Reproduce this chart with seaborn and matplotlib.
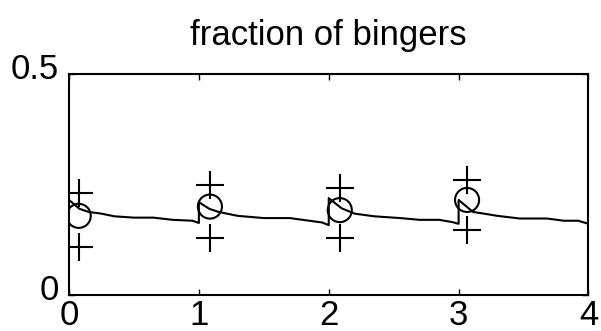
import matplotlib
matplotlib.use("Agg")
import matplotlib.pyplot as plt
import matplotlib.transforms as mtransforms
import seaborn as sns
import pandas as pd

sns.set_theme(style="white")
plt.rcParams["font.family"] = ["Liberation Sans", "DejaVu Sans"]

# Simulated fraction of bingers over time (jumps at each integer time)
time = [0.00, 0.08, 0.15, 0.25, 0.35, 0.50, 0.65, 0.80, 0.95, 1.00,
        1.00, 1.08, 1.15, 1.30, 1.50, 1.70, 1.85, 1.95, 2.00,
        2.00, 2.10, 2.20, 2.35, 2.55, 2.70, 2.85, 2.95, 3.00,
        3.00, 3.11, 3.30, 3.47, 3.68, 3.81, 3.92, 4.00]
fraction = [0.215, 0.195, 0.188, 0.184, 0.178, 0.175, 0.175, 0.170, 0.168, 0.163,
            0.210, 0.195, 0.188, 0.179, 0.174, 0.174, 0.168, 0.164, 0.158,
            0.219, 0.196, 0.184, 0.178, 0.174, 0.170, 0.170, 0.165, 0.161,
            0.215, 0.188, 0.179, 0.173, 0.173, 0.168, 0.168, 0.161]

# Observed means and bounds
obs_time = [0.075, 1.085, 2.085, 3.065]
obs_mean = [0.179, 0.200, 0.192, 0.215]
obs_upper = [0.230, 0.249, 0.241, 0.260]
obs_lower = [0.109, 0.128, 0.128, 0.147]

x_ticks = [0, 1, 2, 3, 4]
y_ticks = [0, 0.5]
y_tick_labels = ["0", "0.5"]

fig = plt.figure(figsize=(6.01, 3.31), dpi=100)
ax = fig.add_axes([0.1148, 0.1088, 0.8644, 0.6677])

line_df = pd.DataFrame({"time": time, "fraction": fraction})
sns.lineplot(data=line_df, x="time", y="fraction", estimator=None, sort=False,
             color="black", linewidth=1.5, ax=ax)

mean_df = pd.DataFrame({"time": obs_time, "value": obs_mean})
bound_df = pd.DataFrame({"time": obs_time * 2, "value": obs_upper + obs_lower})
sns.scatterplot(data=mean_df, x="time", y="value", marker="o", s=300,
                facecolor="none", edgecolor="black", linewidth=1.5, ax=ax)
sns.scatterplot(data=bound_df, x="time", y="value", marker="+", s=420,
                color="black", linewidth=1.5, ax=ax)

ax.set_xlim(0, 4)
ax.set_ylim(0, 0.5)
ax.set_xticks(x_ticks)
ax.set_xticklabels([str(v) for v in x_ticks])
ax.set_yticks(y_ticks)
ax.set_yticklabels(y_tick_labels)
ax.set_xlabel("")
ax.set_ylabel("")
ax.set_title("fraction of bingers", fontsize=25, pad=21, color="black")

for spine in ax.spines.values():
    spine.set_visible(True)
    spine.set_color("black")
    spine.set_linewidth(1.5)

ax.tick_params(axis="both", direction="in", length=4, width=1,
               top=True, right=True, bottom=True, left=True,
               labelsize=25, colors="black")
ax.tick_params(axis="x", pad=3)
ax.tick_params(axis="y", pad=7)

# y tick labels sit a little above their ticks
lift = mtransforms.ScaledTranslation(0, 8 / 100, fig.dpi_scale_trans)
for label in ax.get_yticklabels():
    label.set_transform(label.get_transform() + lift)

fig.savefig("out.png", dpi=100)
